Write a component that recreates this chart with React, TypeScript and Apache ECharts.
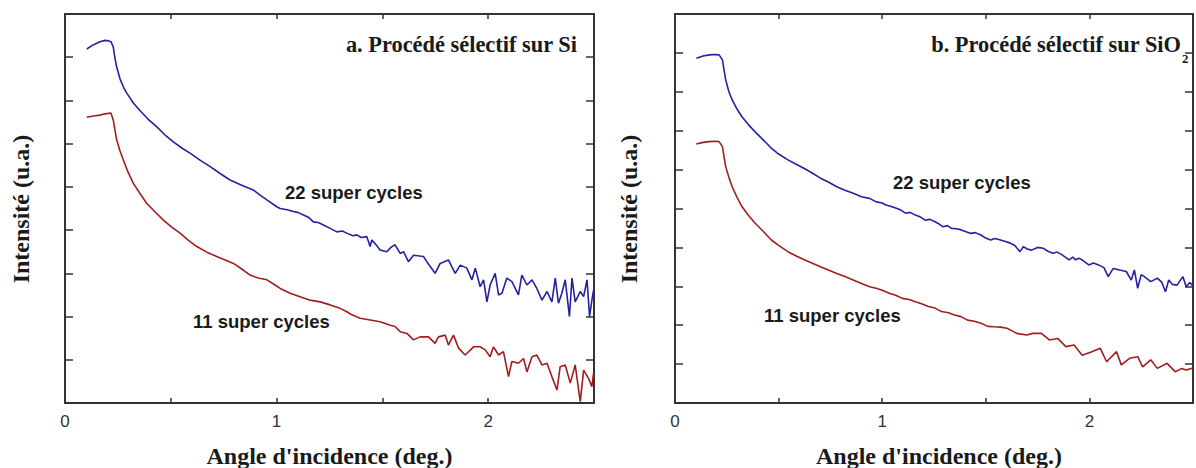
import React, { useEffect, useRef } from "react";
import * as echarts from "echarts";

// ---- Data (angle in deg., intensity in arbitrary units) ----
const X_MIN = 0;
const X_MAX = 2.5;
const X_STEP = 0.5;
const Y_MAX_SI = 9;
const Y_MAX_SIO2 = 10;

const panelTitles = ["a. Procédé sélectif sur Si", "b. Procédé sélectif sur SiO", "2"];
const curveLabels = ["22 super cycles", "11 super cycles"];
const axisTitles = ["Angle d'incidence (deg.)", "Intensité (u.a.)"];

// Panel a — Si, 22 super cycles
const si22: [number, number][] = [
  [0.103, 8.19], [0.135, 8.29], [0.165, 8.36], [0.19, 8.39], [0.205, 8.38], [0.217, 8.36],
  [0.228, 8.24], [0.236, 7.98], [0.244, 7.78], [0.26, 7.5], [0.276, 7.31], [0.292, 7.17],
  [0.323, 6.94], [0.355, 6.76], [0.392, 6.57], [0.434, 6.39], [0.473, 6.2], [0.512, 6.04],
  [0.552, 5.9], [0.591, 5.78], [0.638, 5.62], [0.686, 5.47], [0.733, 5.31], [0.78, 5.16],
  [0.835, 5.04], [0.89, 4.93], [0.922, 4.81], [0.954, 4.7], [1.001, 4.54], [1.017, 4.5],
  [1.05, 4.47], [1.079, 4.43], [1.1, 4.41], [1.127, 4.35], [1.15, 4.3], [1.174, 4.19],
  [1.2, 4.17], [1.221, 4.12], [1.253, 4.04], [1.285, 3.96], [1.31, 3.98], [1.332, 3.93],
  [1.36, 3.87], [1.379, 3.89], [1.4, 3.83], [1.426, 3.85], [1.442, 3.62], [1.45, 3.77],
  [1.47, 3.66], [1.489, 3.54], [1.521, 3.5], [1.54, 3.6], [1.56, 3.66], [1.584, 3.46],
  [1.6, 3.5], [1.623, 3.27], [1.647, 3.42], [1.694, 3.39], [1.71, 3.27], [1.749, 3.0],
  [1.773, 3.23], [1.812, 3.31], [1.844, 3.0], [1.868, 3.19], [1.899, 3.12], [1.923, 2.85],
  [1.939, 3.12], [1.962, 2.69], [1.978, 2.85], [1.994, 2.34], [2.009, 2.73], [2.033, 3.0],
  [2.049, 2.5], [2.065, 2.54], [2.088, 2.89], [2.112, 2.81], [2.143, 2.5], [2.159, 2.96],
  [2.183, 2.73], [2.207, 2.85], [2.23, 2.65], [2.254, 2.38], [2.278, 2.58], [2.301, 2.34],
  [2.317, 2.89], [2.332, 2.31], [2.348, 2.54], [2.364, 2.85], [2.384, 2.0], [2.396, 2.89],
  [2.411, 2.34], [2.435, 2.58], [2.451, 2.46], [2.467, 2.85], [2.479, 2.0], [2.49, 2.38],
  [2.498, 2.61],
];

// Panel a — Si, 11 super cycles
const si11: [number, number][] = [
  [0.103, 6.61], [0.135, 6.64], [0.165, 6.66], [0.19, 6.69], [0.205, 6.7], [0.217, 6.71],
  [0.228, 6.55], [0.236, 6.32], [0.244, 6.09], [0.26, 5.83], [0.276, 5.62], [0.298, 5.34],
  [0.323, 5.08], [0.355, 4.84], [0.386, 4.62], [0.426, 4.42], [0.465, 4.23], [0.504, 4.07],
  [0.544, 3.93], [0.582, 3.77], [0.623, 3.62], [0.67, 3.49], [0.717, 3.39], [0.757, 3.31],
  [0.796, 3.23], [0.835, 3.1], [0.875, 2.96], [0.913, 2.89], [0.954, 2.85], [0.993, 2.73],
  [1.017, 2.65], [1.064, 2.54], [1.111, 2.46], [1.158, 2.38], [1.206, 2.34], [1.253, 2.27],
  [1.3, 2.19], [1.332, 2.11], [1.356, 2.04], [1.395, 1.96], [1.442, 1.92], [1.489, 1.88],
  [1.537, 1.8], [1.56, 1.77], [1.584, 1.65], [1.616, 1.61], [1.647, 1.46], [1.678, 1.53],
  [1.718, 1.53], [1.749, 1.38], [1.765, 1.53], [1.797, 1.57], [1.812, 1.34], [1.836, 1.57],
  [1.86, 1.27], [1.891, 1.11], [1.931, 1.3], [1.962, 1.3], [1.986, 1.23], [2.009, 1.07],
  [2.025, 1.3], [2.049, 1.11], [2.072, 1.19], [2.096, 0.61], [2.112, 0.96], [2.143, 0.92],
  [2.167, 1.03], [2.183, 0.72], [2.207, 1.07], [2.23, 1.11], [2.254, 0.88], [2.278, 0.92],
  [2.301, 0.61], [2.325, 0.3], [2.34, 0.84], [2.364, 0.88], [2.388, 0.46], [2.411, 0.88],
  [2.435, 0.03], [2.451, 0.76], [2.474, 0.57], [2.49, 0.38], [2.498, 0.69],
];

// Panel b — SiO2, 22 super cycles
const sio22: [number, number][] = [
  [0.103, 8.86], [0.135, 8.92], [0.166, 8.95], [0.19, 8.96], [0.213, 8.95], [0.229, 8.82],
  [0.237, 8.55], [0.245, 8.3], [0.26, 8.0], [0.276, 7.79], [0.3, 7.55], [0.323, 7.36],
  [0.355, 7.15], [0.387, 6.97], [0.43, 6.74], [0.465, 6.55], [0.5, 6.4], [0.545, 6.25],
  [0.58, 6.15], [0.624, 6.03], [0.66, 5.92], [0.702, 5.78], [0.74, 5.68], [0.781, 5.56],
  [0.82, 5.47], [0.86, 5.39], [0.9, 5.3], [0.939, 5.26], [0.971, 5.17], [1.0, 5.14],
  [1.018, 5.09], [1.04, 5.06], [1.065, 5.01], [1.09, 4.96], [1.113, 4.88], [1.135, 4.9],
  [1.16, 4.83], [1.185, 4.78], [1.207, 4.7], [1.23, 4.72], [1.255, 4.66], [1.275, 4.6],
  [1.294, 4.53], [1.315, 4.56], [1.334, 4.49], [1.36, 4.48], [1.381, 4.45], [1.405, 4.4],
  [1.428, 4.36], [1.45, 4.38], [1.476, 4.32], [1.5, 4.24], [1.523, 4.19], [1.545, 4.23],
  [1.571, 4.19], [1.595, 4.15], [1.618, 4.11], [1.64, 4.05], [1.665, 3.89], [1.681, 4.02],
  [1.7, 3.96], [1.72, 3.93], [1.75, 4.0], [1.776, 3.98], [1.8, 3.9], [1.823, 3.85],
  [1.845, 3.88], [1.87, 3.8], [1.902, 3.68], [1.92, 3.75], [1.933, 3.68], [1.95, 3.72],
  [1.965, 3.68], [1.997, 3.55], [2.02, 3.6], [2.044, 3.55], [2.07, 3.48], [2.091, 3.25],
  [2.115, 3.46], [2.146, 3.42], [2.178, 3.38], [2.202, 3.16], [2.217, 3.42], [2.233, 2.95],
  [2.25, 3.3], [2.265, 3.25], [2.296, 3.12], [2.328, 3.21], [2.35, 3.1], [2.367, 2.86],
  [2.383, 3.16], [2.4, 3.05], [2.423, 3.03], [2.451, 3.25], [2.467, 2.99], [2.485, 3.1],
  [2.5, 3.0],
];

// Panel b — SiO2, 11 super cycles
const sio11: [number, number][] = [
  [0.103, 6.66], [0.135, 6.7], [0.166, 6.72], [0.19, 6.73], [0.213, 6.72], [0.229, 6.59],
  [0.237, 6.32], [0.245, 6.07], [0.26, 5.8], [0.276, 5.56], [0.3, 5.28], [0.323, 5.05],
  [0.355, 4.82], [0.387, 4.62], [0.43, 4.39], [0.465, 4.19], [0.5, 4.05], [0.545, 3.89],
  [0.58, 3.79], [0.624, 3.68], [0.66, 3.6], [0.702, 3.5], [0.74, 3.42], [0.781, 3.33],
  [0.82, 3.25], [0.86, 3.16], [0.9, 3.07], [0.939, 2.99], [0.971, 2.95], [1.0, 2.9],
  [1.034, 2.82], [1.065, 2.77], [1.097, 2.69], [1.13, 2.66], [1.16, 2.6], [1.19, 2.55],
  [1.223, 2.48], [1.255, 2.44], [1.286, 2.35], [1.32, 2.32], [1.349, 2.26], [1.38, 2.22],
  [1.412, 2.13], [1.445, 2.1], [1.476, 2.05], [1.51, 1.97], [1.539, 1.96], [1.57, 1.95],
  [1.602, 1.92], [1.625, 1.86], [1.649, 1.79], [1.697, 1.75], [1.728, 1.79], [1.768, 1.79],
  [1.807, 1.62], [1.847, 1.66], [1.886, 1.45], [1.926, 1.49], [1.965, 1.23], [2.012, 1.32],
  [2.052, 1.41], [2.083, 1.06], [2.131, 1.32], [2.154, 0.98], [2.194, 1.15], [2.233, 1.19],
  [2.257, 0.93], [2.296, 1.11], [2.328, 0.89], [2.375, 1.02], [2.415, 0.8], [2.446, 0.89],
  [2.467, 0.85], [2.5, 0.9],
];

const BLUE = "#2323a0";
const RED = "#a11e1e";
const AXIS = "#333333";
const SERIF = "'Liberation Serif', 'Times New Roman', serif";
const SANS = "'Liberation Sans', Arial, sans-serif";

const grids = [
  { left: 65, top: 14, width: 529, height: 389 },
  { left: 675, top: 14, width: 528, height: 389 },
];

function xAxesFor(gridIndex: number) {
  const base = {
    type: "value" as const,
    gridIndex,
    min: X_MIN,
    max: X_MAX,
    interval: X_STEP,
    splitLine: { show: false },
    axisLine: { show: true, onZero: false, lineStyle: { color: AXIS, width: 2 } },
  };
  return [
    {
      ...base,
      position: "bottom",
      axisTick: { show: true, inside: true, length: 5, lineStyle: { color: AXIS, width: 1.5 } },
      axisLabel: {
        show: true,
        margin: 10,
        color: AXIS,
        fontSize: 17,
        fontFamily: SANS,
        formatter: (v: number) => (Math.abs(v - Math.round(v)) < 1e-9 ? String(Math.round(v)) : ""),
      },
    },
    {
      ...base,
      position: "top",
      axisTick: { show: true, inside: true, length: 5, lineStyle: { color: AXIS, width: 1.5 } },
      axisLabel: { show: false },
    },
  ];
}

function yAxesFor(gridIndex: number, max: number) {
  const base = {
    type: "value" as const,
    gridIndex,
    min: 0,
    max,
    interval: 1,
    splitLine: { show: false },
    axisLabel: { show: false },
    axisLine: { show: true, onZero: false, lineStyle: { color: AXIS, width: 2 } },
    axisTick: { show: true, inside: true, length: 8, lineStyle: { color: AXIS, width: 1.5 } },
  };
  return [
    { ...base, position: "left" },
    { ...base, position: "right" },
  ];
}

function lineSeries(data: [number, number][], color: string, axisIdx: number) {
  return {
    type: "line",
    data,
    xAxisIndex: axisIdx,
    yAxisIndex: axisIdx,
    showSymbol: false,
    symbol: "none",
    lineStyle: { color, width: 1.6 },
    itemStyle: { color },
  };
}

function text(x: number, y: number, t: string, font: string, size: number, bold: boolean, align: string, extra: any = {}) {
  return {
    type: "text",
    x,
    y,
    ...extra,
    style: {
      text: t,
      fill: "#1a1a1a",
      font: `${bold ? "bold " : ""}${size}px ${font}`,
      align,
      verticalAlign: "middle",
    },
  };
}

export default function App() {
  const ref = useRef<HTMLDivElement>(null);
  useEffect(() => {
    if (!ref.current) return;
    const chart = echarts.init(ref.current, undefined, { renderer: "svg" });
    chart.setOption({
      animation: false,
      backgroundColor: "#ffffff",
      grid: grids,
      xAxis: [...xAxesFor(0), ...xAxesFor(1)],
      yAxis: [...yAxesFor(0, Y_MAX_SI), ...yAxesFor(1, Y_MAX_SIO2)],
      series: [
        lineSeries(si22, BLUE, 0),
        lineSeries(si11, RED, 0),
        lineSeries(sio22, BLUE, 2),
        lineSeries(sio11, RED, 2),
      ],
      graphic: [
        text(577, 44, panelTitles[0], SERIF, 22.4, true, "right"),
        text(1181, 44, panelTitles[1], SERIF, 22.4, true, "right"),
        text(1182, 58, panelTitles[2], SERIF, 13, true, "left"),
        text(285, 192, curveLabels[0], SANS, 18.5, true, "left"),
        text(193, 321, curveLabels[1], SANS, 18.5, true, "left"),
        text(893, 182, curveLabels[0], SANS, 18.5, true, "left"),
        text(764, 315, curveLabels[1], SANS, 18.5, true, "left"),
        text(329.5, 456, axisTitles[0], SERIF, 24, true, "center"),
        text(939, 456, axisTitles[0], SERIF, 24, true, "center"),
        text(21, 209, axisTitles[1], SERIF, 24, true, "center", { rotation: Math.PI / 2 }),
        text(629, 209, axisTitles[1], SERIF, 24, true, "center", { rotation: Math.PI / 2 }),
      ],
    });
    return () => chart.dispose();
  }, []);
  return (
    <div
      ref={ref}
      style={{ position: "absolute", left: 0, top: 0, width: 1196, height: 468, overflow: "hidden" }}
    />
  );
}
